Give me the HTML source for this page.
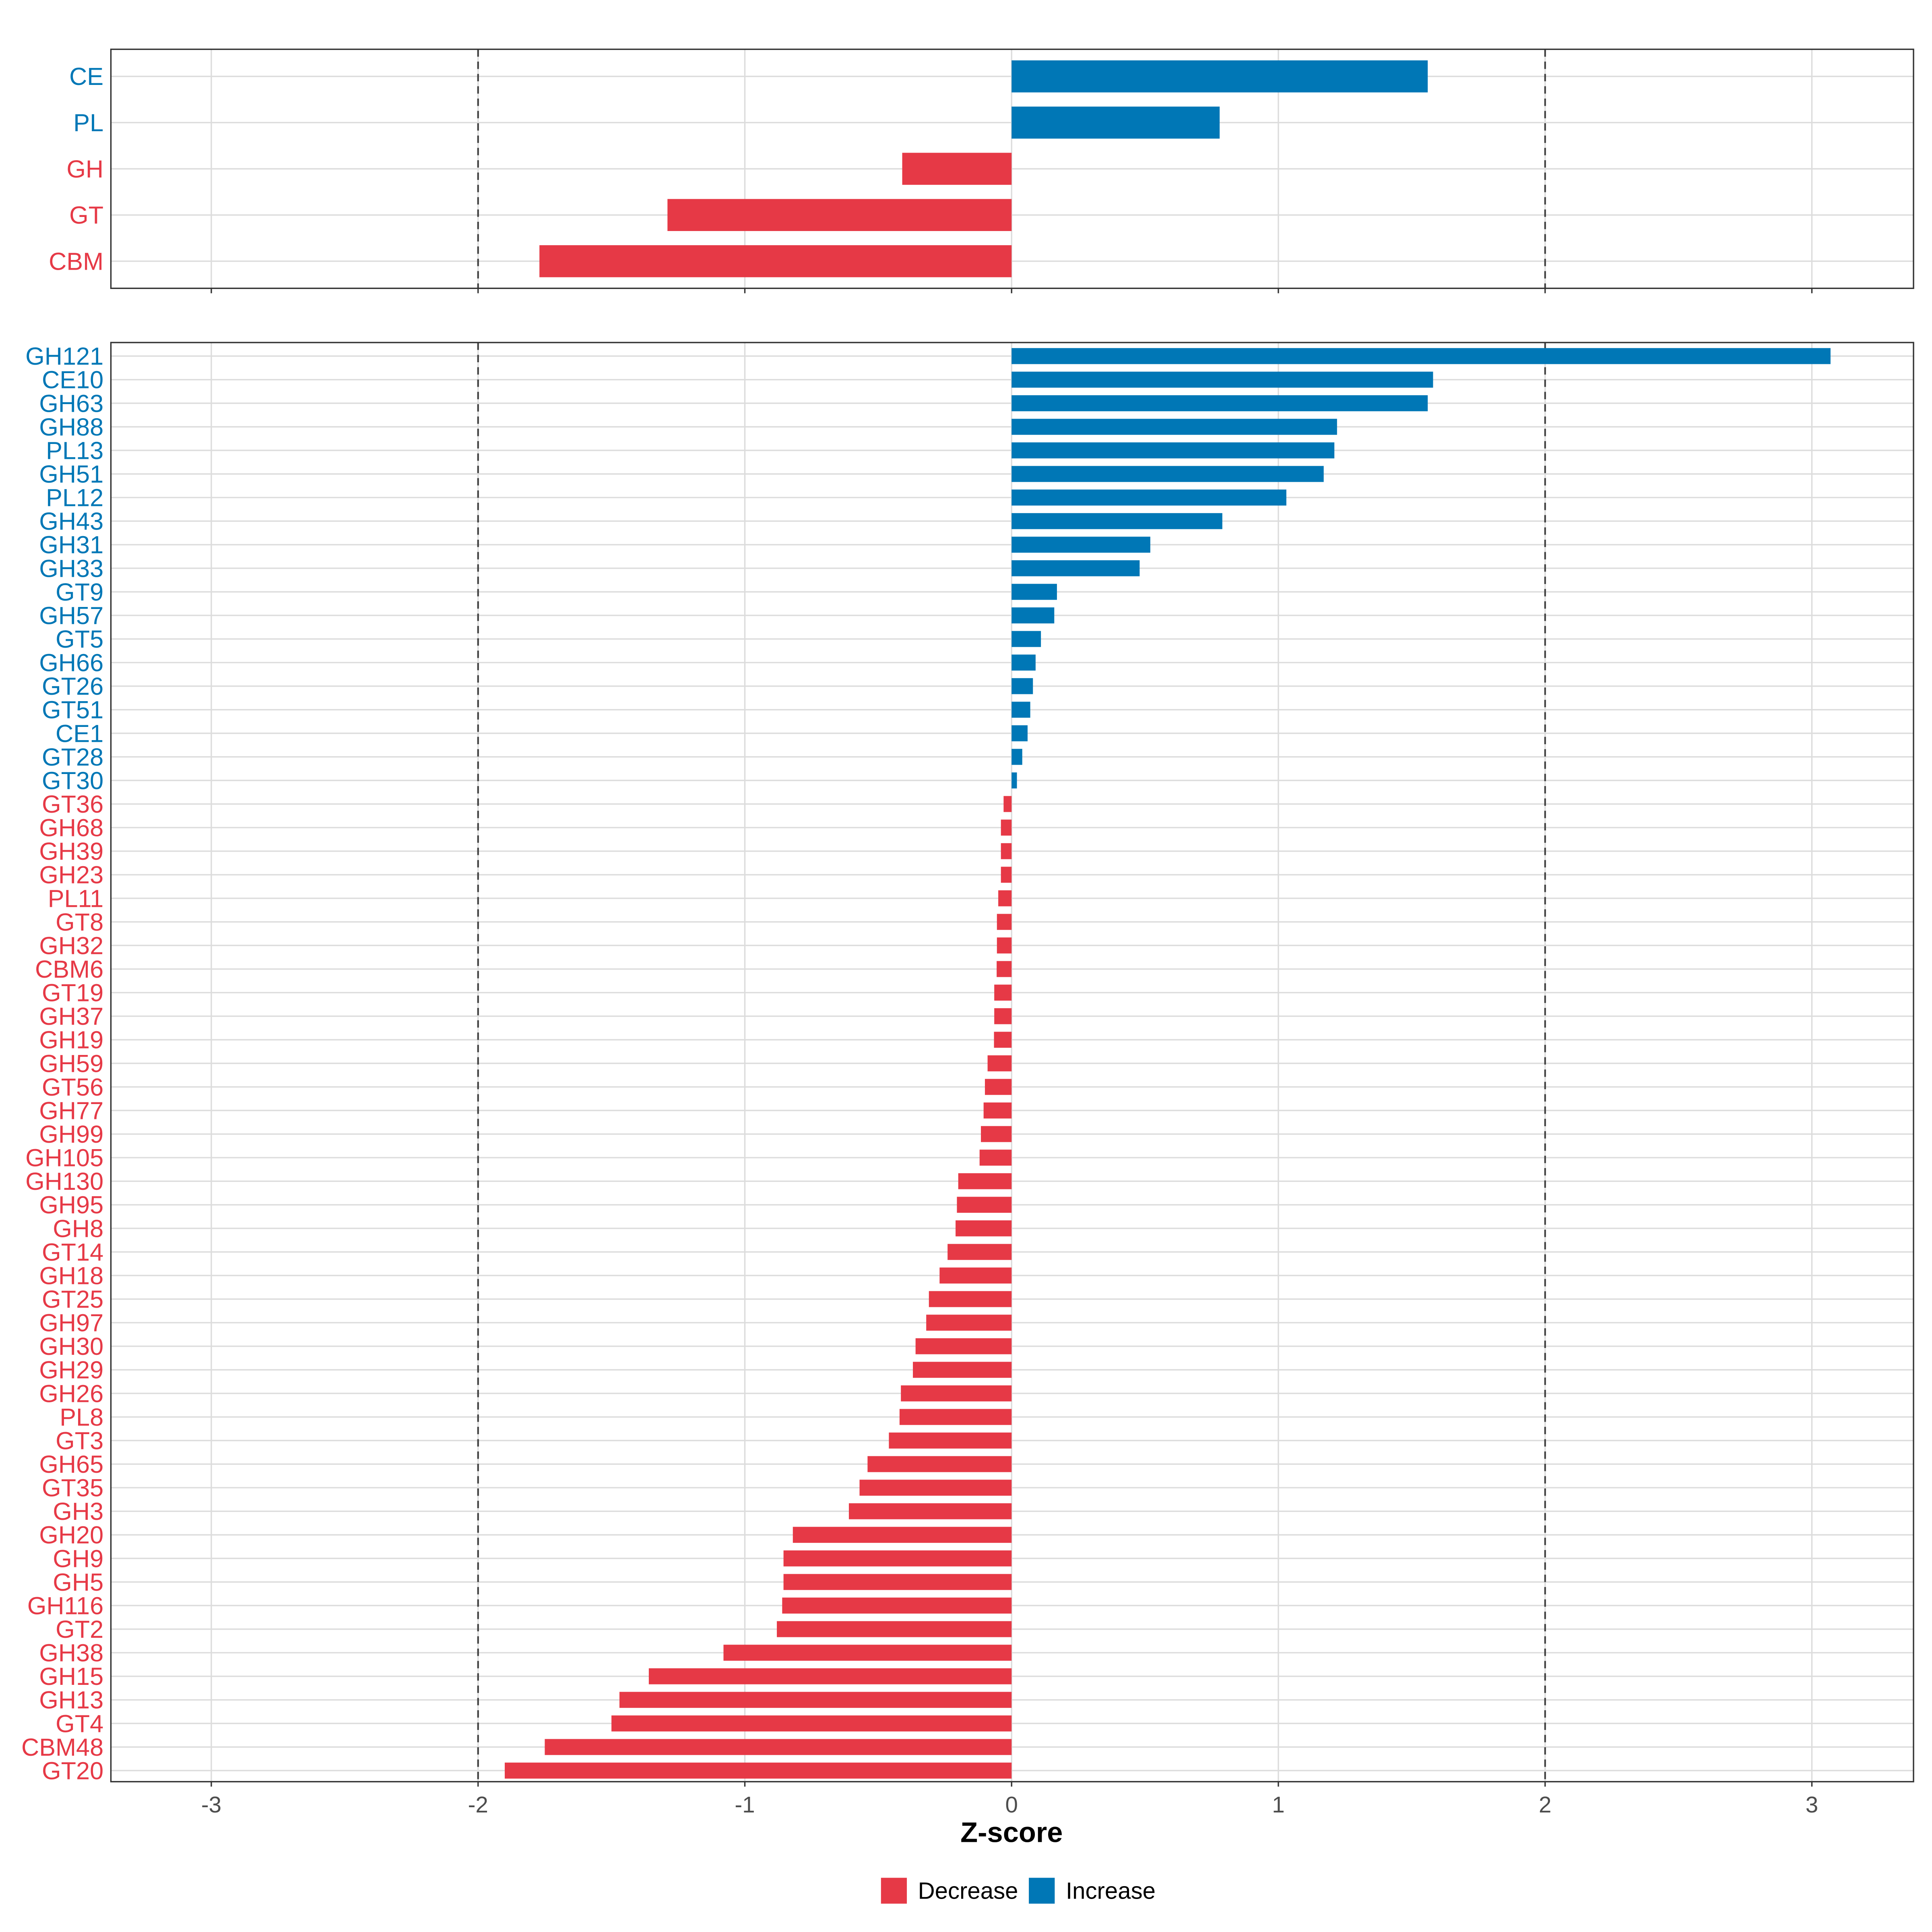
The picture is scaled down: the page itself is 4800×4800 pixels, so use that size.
<!DOCTYPE html>
<html><head><meta charset="utf-8"><style>
html,body{margin:0;padding:0;background:#fff}
svg{display:block}
text{font-family:"Liberation Sans",Arial,sans-serif}
</style></head><body>
<svg id="chart" width="4800" height="4800" viewBox="0 0 1568 1568" xmlns="http://www.w3.org/2000/svg"></svg>
<script>
const topCats = ["CE","PL","GH","GT","CBM"];
const topVals = [1.56,0.78,-0.41,-1.29,-1.77];
const botCats = ["GH121","CE10","GH63","GH88","PL13","GH51","PL12","GH43","GH31","GH33","GT9","GH57","GT5","GH66","GT26","GT51","CE1","GT28","GT30","GT36","GH68","GH39","GH23","PL11","GT8","GH32","CBM6","GT19","GH37","GH19","GH59","GT56","GH77","GH99","GH105","GH130","GH95","GH8","GT14","GH18","GT25","GH97","GH30","GH29","GH26","PL8","GT3","GH65","GT35","GH3","GH20","GH9","GH5","GH116","GT2","GH38","GH15","GH13","GT4","CBM48","GT20"];
const botVals = [3.07,1.58,1.56,1.22,1.21,1.17,1.03,0.79,0.52,0.48,0.17,0.16,0.11,0.09,0.08,0.07,0.06,0.04,0.02,-0.03,-0.04,-0.04,-0.04,-0.05,-0.055,-0.055,-0.056,-0.065,-0.065,-0.066,-0.09,-0.10,-0.105,-0.115,-0.12,-0.20,-0.205,-0.21,-0.24,-0.27,-0.31,-0.32,-0.36,-0.37,-0.415,-0.42,-0.46,-0.54,-0.57,-0.61,-0.82,-0.855,-0.855,-0.86,-0.88,-1.08,-1.36,-1.47,-1.50,-1.75,-1.90];
const xTicks = [-3,-2,-1,0,1,2,3];
const xTickLabels = ["-3","-2","-1","0","1","2","3"];
const thresholds = [-2,2];

const RED="#E63946", BLUE="#0077B6";
const svg=document.getElementById('chart');
const NS="http://www.w3.org/2000/svg";
function mk(tag,attrs,parent){const e=document.createElementNS(NS,tag);for(const k in attrs)e.setAttribute(k,attrs[k]);(parent||svg).appendChild(e);return e;}
const L=90,R=1553;
function xs(v){return 821+v*216.5;}

function panel(name,cats,vals,y0,y1,firstY,step,barH,showLabels){
  const g=mk('g',{});
  
  
  xTicks.forEach(t=>{const l=mk('line',{x1:xs(t),x2:xs(t),y1:y0,y2:y1,stroke:'#dcdcdc','stroke-width':1.1},g);
    });
  cats.forEach((c,i)=>{const y=firstY+i*step;const l=mk('line',{x1:L,x2:R,y1:y,y2:y,stroke:'#dcdcdc','stroke-width':1.1},g);
    });
  thresholds.forEach(t=>{const l=mk('line',{x1:xs(t),x2:xs(t),y1:y0,y2:y1,stroke:'#444','stroke-width':1.4,'stroke-dasharray':'6,4'},g);
    });
  cats.forEach((c,i)=>{const v=vals[i];const y=firstY+i*step;const col=v>=0?BLUE:RED;
    const x1=Math.min(xs(0),xs(v)),w=Math.abs(xs(v)-xs(0));
    const b=mk('rect',{x:x1,y:y-barH/2,width:w,height:barH,fill:col},g);
    
    const t=mk('text',{x:L-6,y:y+7,'text-anchor':'end','font-size':20,fill:col},g);t.textContent=c;
    });
  const fr=mk('rect',{x:L,y:y0,width:R-L,height:y1-y0,fill:'none',stroke:'#333','stroke-width':1.1},g);
  
  xTicks.forEach((t,i)=>{const l=mk('line',{x1:xs(t),x2:xs(t),y1:y1,y2:y1+4,stroke:'#333','stroke-width':1.1},g);
    
    if(showLabels){const tx=mk('text',{x:xs(t),y:y1+25,'text-anchor':'middle','font-size':18.5,fill:'#4d4d4d'},g);tx.textContent=xTickLabels[i];
      }});
}
panel('top-panel',topCats,topVals,40,234,62,37.5,26,false);
panel('bottom-panel',botCats,botVals,278,1446,289,(1437-289)/60,13,true);

const xt=mk('text',{x:821,y:1495,'text-anchor':'middle','font-size':23,'font-weight':'bold',fill:'#000'});xt.textContent='Z-score';

const lg=mk('g',{});

[["Decrease",RED,715],["Increase",BLUE,835]].forEach(([n,c,x])=>{
  const r=mk('rect',{x:x,y:1524,width:21,height:21,fill:c},lg);
  
  const t=mk('text',{x:x+30,y:1541,'font-size':19,fill:'#000'},lg);t.textContent=n;
  });
</script>
</body></html>
